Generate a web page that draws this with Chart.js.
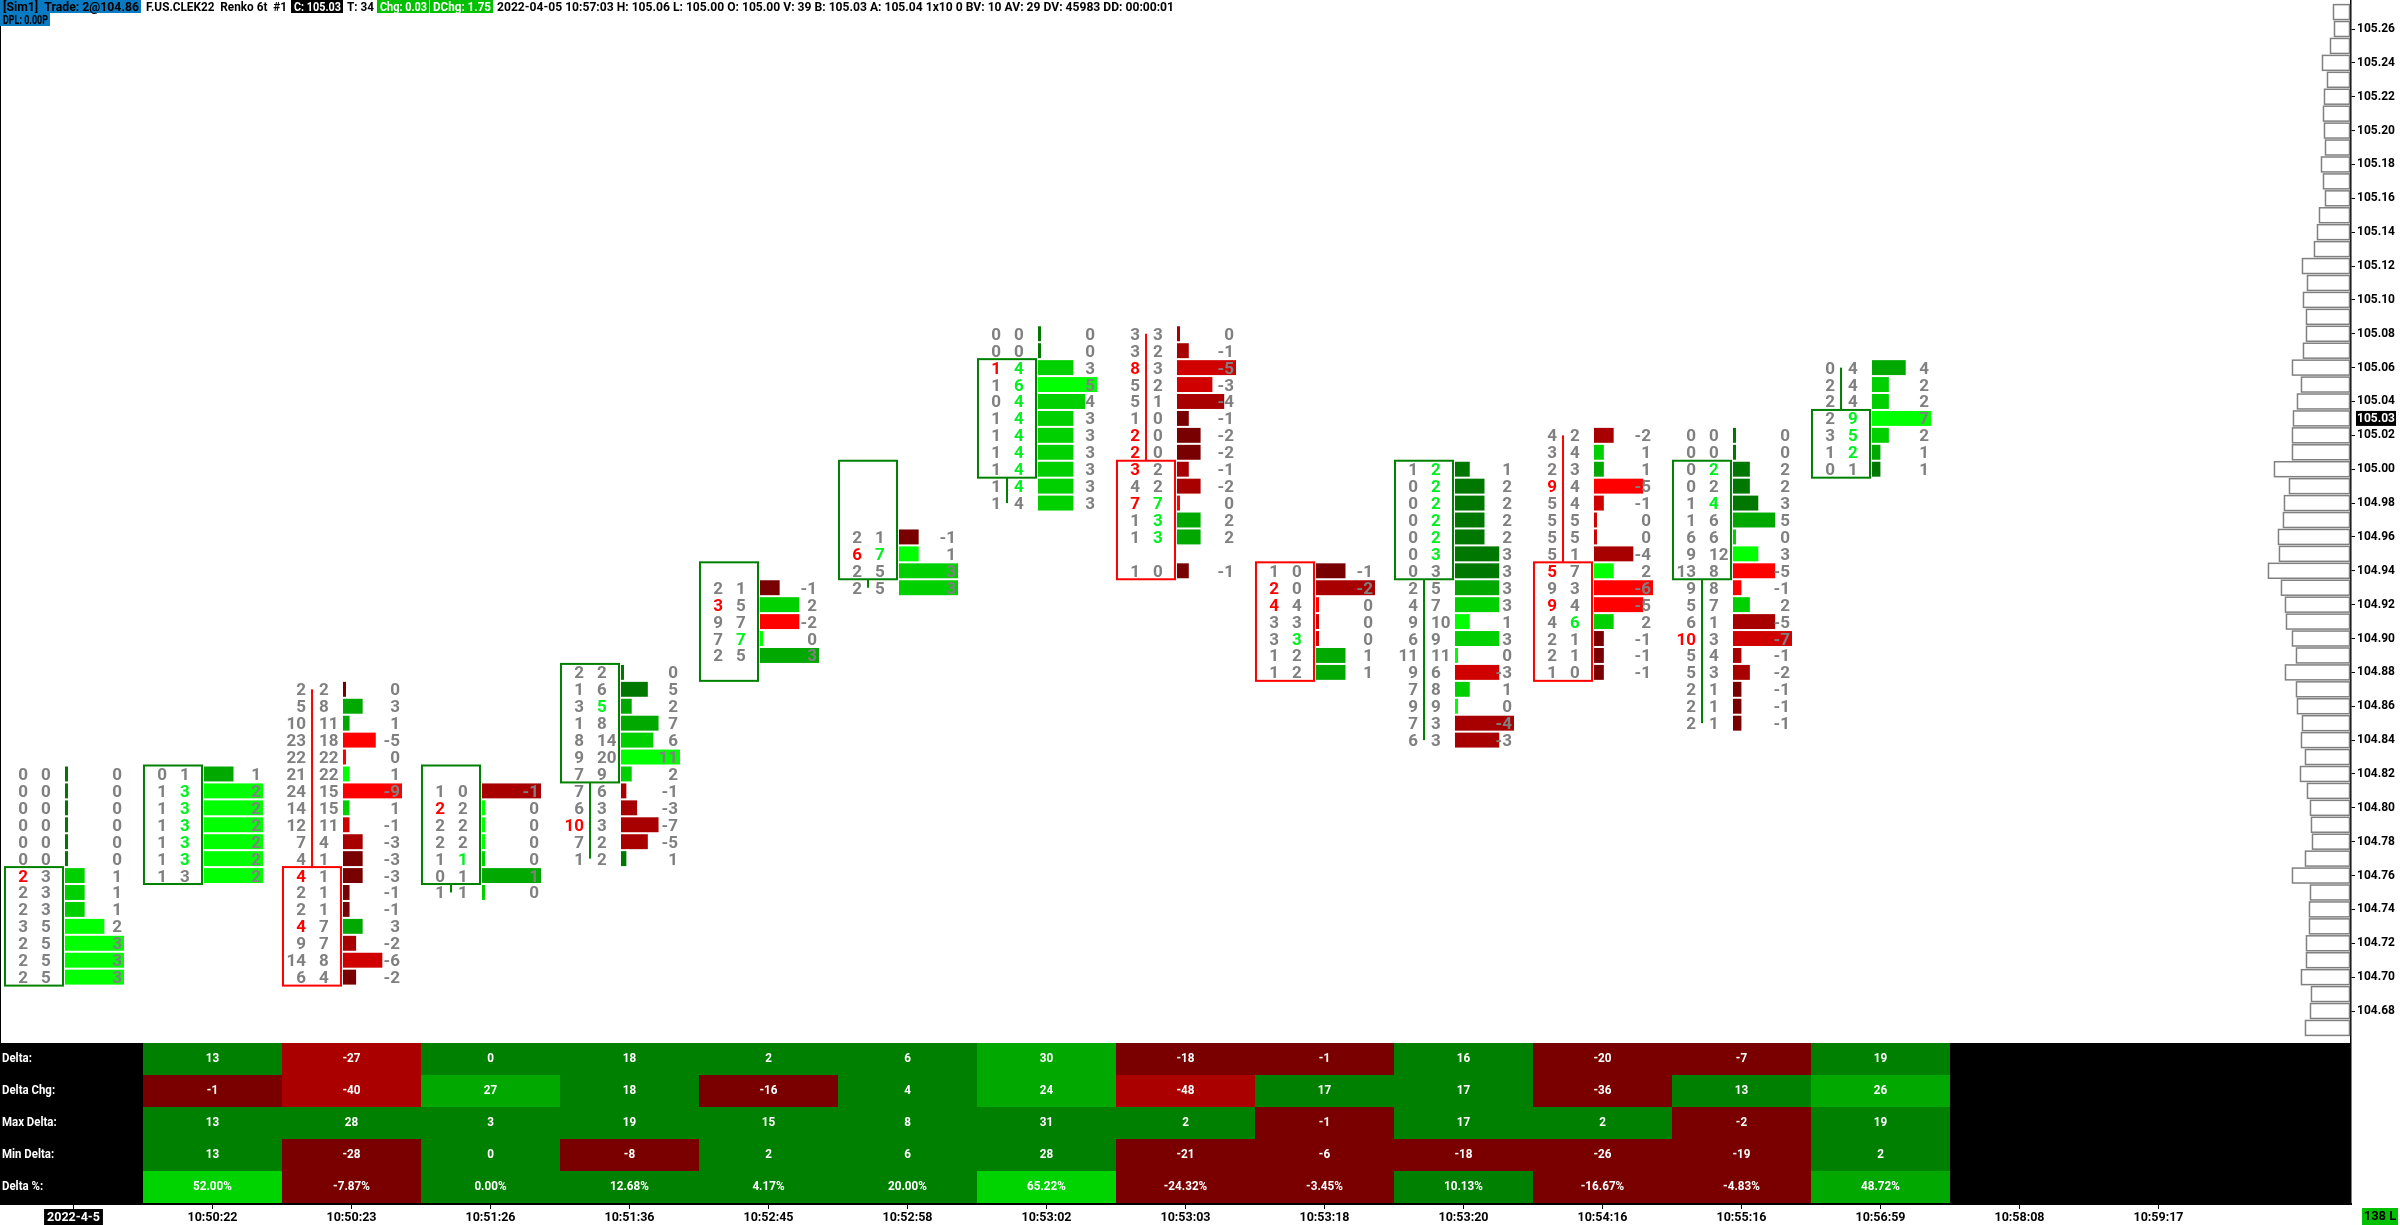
<!DOCTYPE html>
<html><head><meta charset="utf-8">
<script src="https://cdn.jsdelivr.net/npm/chart.js@4.4.1/dist/chart.umd.min.js"></script>
<style>html,body{margin:0;padding:0;background:#fff;}canvas{display:block;}</style>
</head><body>
<canvas id="c" width="2400" height="1225" style="width:2400px;height:1225px"></canvas>
<script>
// ---------------- data ----------------
const slotLabels = ['2022-4-5','10:50:22','10:50:23','10:51:26','10:51:36','10:52:45','10:52:58','10:53:02','10:53:03','10:53:18','10:53:20','10:54:16','10:55:16','10:56:59','10:58:08','10:59:17'];
const barTopPrice = [104.82,104.82,104.87,104.81,104.88,104.93,104.96,105.08,105.08,104.94,105.00,105.02,105.02,105.06];
const barOpen  = [104.70,104.76,104.76,104.76,104.82,104.88,104.94,105.00,105.00,104.94,104.94,104.94,104.94,105.00];
const barClose = [104.76,104.82,104.70,104.82,104.88,104.94,105.00,105.06,104.94,104.88,105.00,104.88,105.00,105.03];
const bidVolumes = [
  [0,0,0,0,0,0,2,2,2,3,2,2,2],
  [0,1,1,1,1,1,1],
  [2,5,10,23,22,21,24,14,12,7,4,4,2,2,4,9,14,6],
  [1,2,2,2,1,0,1],
  [2,1,3,1,8,9,7,7,6,10,7,1],
  [2,3,9,7,2],
  [2,6,2,2],
  [0,0,1,1,0,1,1,1,1,1,1],
  [3,3,8,5,5,1,2,2,3,4,7,1,1,null,1],
  [1,2,4,3,3,1,1],
  [1,0,0,0,0,0,0,2,4,9,6,11,9,7,9,7,6],
  [4,3,2,9,5,5,5,5,5,9,9,4,2,2,1],
  [0,0,0,0,1,1,6,9,13,9,5,6,10,5,5,2,2,2],
  [0,2,2,2,3,1,0]
];
const askVolumes = [
  [0,0,0,0,0,0,3,3,3,5,5,5,5],
  [1,3,3,3,3,3,3],
  [2,8,11,18,22,22,15,15,11,4,1,1,1,1,7,7,8,4],
  [0,2,2,2,1,1,1],
  [2,6,5,8,14,20,9,6,3,3,2,2],
  [1,5,7,7,5],
  [1,7,5,5],
  [0,0,4,6,4,4,4,4,4,4,4],
  [3,2,3,2,1,0,0,0,2,2,7,3,3,null,0],
  [0,0,4,3,3,2,2],
  [2,2,2,2,2,3,3,5,7,10,9,11,6,8,9,3,3],
  [2,4,3,4,4,5,5,1,7,3,4,6,1,1,0],
  [0,0,2,2,4,6,6,12,8,8,7,1,3,4,3,1,1,1],
  [4,4,4,9,5,2,1]
];
const tableRowNames = ['Delta:','Delta Chg:','Max Delta:','Min Delta:','Delta %:'];
const tableDelta    = [13,-27,0,18,2,6,30,-18,-1,16,-20,-7,19];
const tableDeltaChg = [-1,-40,27,18,-16,4,24,-48,17,17,-36,13,26];
const tableMaxDelta = [13,28,3,19,15,8,31,2,-1,17,2,-2,19];
const tableMinDelta = [13,-28,0,-8,2,6,28,-21,-6,-18,-26,-19,2];
const tableDeltaPct = [52.00,-7.87,0.00,12.68,4.17,20.00,65.22,-24.32,-3.45,10.13,-16.67,-4.83,48.72];
const profilePrices = [104.67,104.68,104.69,104.70,104.71,104.72,104.73,104.74,104.75,104.76,
  104.77,104.78,104.79,104.80,104.81,104.82,104.83,104.84,104.85,104.86,
  104.87,104.88,104.89,104.90,104.91,104.92,104.93,104.94,104.95,104.96,
  104.97,104.98,104.99,105.00,105.01,105.02,105.03,105.04,105.05,105.06,
  105.07,105.08,105.09,105.10,105.11,105.12,105.13,105.14,105.15,105.16,
  105.17,105.18,105.19,105.20,105.21,105.22,105.23,105.24,105.25,105.26,105.27];
const profileVolumes = [44,39,38,48,43,43,40,40,39,57,
  44,37,38,39,42,49,44,48,47,52,
  53,64,53,57,63,64,68,81,70,71,
  66,65,60,75,57,57,56,52,48,57,
  46,43,43,46,42,47,35,32,30,24,
  26,28,24,25,26,25,22,27,19,15,16];
const priceTickLabels = ['104.68','104.70','104.72','104.74','104.76','104.78','104.80','104.82','104.84','104.86',
  '104.88','104.90','104.92','104.94','104.96','104.98','105.00','105.02','105.04','105.06',
  '105.08','105.10','105.12','105.14','105.16','105.18','105.20','105.22','105.24','105.26'];
const lastPrice = 105.03;
const headerLine1 = ['[Sim1]  Trade: 2@104.86','F.US.CLEK22  Renko 6t  #1','C: 105.03','T: 34','Chg: 0.03','DChg: 1.75',
  '2022-04-05 10:57:03 H: 105.06 L: 105.00 O: 105.00 V: 39 B: 105.03 A: 105.04 1x10 0 BV: 10 AV: 29 DV: 45983 DD: 00:00:01'];
const headerLine2 = 'DPL: 0.00P';
const barCountLabel = '138 L';

// ---------------- styles ----------------
const GREENS = ['#007800','#00a800','#00d000','#00ff00'];
const REDS   = ['#780000','#a80000','#d00000','#ff0000'];
const TXT_GRAY = '#808080';
const BOX_UP = '#008000', BOX_DN = '#ff0000';
const FP_FONT = 'bold 17px Roboto';

function shadeLevel(r){ return r >= 0.8 ? 3 : r >= 0.5 ? 2 : r >= 0.25 ? 1 : 0; }

function cellColor(row, v){
  if (row === 0) return v >= 25 ? '#00a800' : v >= 0 ? '#008000' : v <= -25 ? '#aa0000' : '#7a0000';
  if (row === 1) return v >= 20 ? '#00a800' : v >= 0 ? '#008000' : v <= -38 ? '#aa0000' : '#7a0000';
  if (row === 4) return v >= 50 ? '#00d400' : v >= 40 ? '#00a800' : v >= 0 ? '#008000' : '#7a0000';
  return v >= 0 ? '#008000' : '#7a0000';
}

function ctext(ctx, s, x, y, align, sx){
  ctx.save(); ctx.translate(x, y); ctx.scale(sx, 1); ctx.textAlign = align; ctx.fillText(s, 0, 0); ctx.restore();
}

const footprintPlugin = {
  id: 'footprint',
  beforeDraw(chart){
    const {ctx, chartArea: a, scales: {x}} = chart;
    ctx.save();
    ctx.font = 'bold 12.5px Roboto';
    const w = ctx.measureText(slotLabels[0]).width + 6;
    ctx.fillStyle = '#000';
    ctx.fillRect(x.getPixelForValue(0) - w/2, a.bottom + 5, w, 16);
    ctx.restore();
  },
  afterDraw(chart){
    const {ctx, chartArea: a, scales: {x, y}} = chart;
    const sw = x.getPixelForValue(1) - x.getPixelForValue(0);
    const rowH = Math.abs(y.getPixelForValue(104.90) - y.getPixelForValue(104.91));
    const P = v => y.getPixelForValue(v);
    ctx.save();

    // left border line
    ctx.fillStyle = '#000';
    ctx.fillRect(a.left, a.top, 1, a.bottom - a.top);

    // ---- volume profile ----
    const maxPV = Math.max(...profileVolumes);
    const pRight = a.right - 1.5;
    ctx.lineWidth = 1.5; ctx.strokeStyle = '#808080';
    profilePrices.forEach((p, i) => {
      const yc = P(p), w = profileVolumes[i] / maxPV * 0.583 * sw, h = rowH - 2;
      ctx.fillStyle = '#fff';
      ctx.fillRect(pRight - w, yc - h/2, w, h);
      ctx.strokeRect(pRight - w, yc - h/2, w, h);
    });

    // ---- footprint columns ----
    ctx.font = FP_FONT;
    ctx.textBaseline = 'alphabetic';
    for (let c = 0; c < bidVolumes.length; c++){
      const cx = x.getPixelForValue(c);
      const bids = bidVolumes[c], asks = askVolumes[c], n = bids.length;
      const prices = bids.map((_, k) => Math.round(barTopPrice[c]*100 - k) / 100);
      let maxAbs = 1, maxVol = 1, tHi = null, tLo = null;
      for (let k = 0; k < n; k++){
        if (bids[k] == null) continue;
        const d = asks[k] - bids[k], v = asks[k] + bids[k];
        maxAbs = Math.max(maxAbs, Math.abs(d)); maxVol = Math.max(maxVol, v);
        if (v > 0){ if (tHi === null) tHi = prices[k]; tLo = prices[k]; }
      }
      const up = barClose[c] >= barOpen[c];
      const hi = Math.max(barOpen[c], barClose[c]), lo = Math.min(barOpen[c], barClose[c]);
      const boxCol = up ? BOX_UP : BOX_DN;
      const boxL = cx - 0.493*sw, boxR = cx - 0.0755*sw;
      const boxT = P(hi + 0.005), boxB = P(lo - 0.005);
      // wick
      const wx = cx - 0.284*sw;
      ctx.fillStyle = boxCol;
      if (tHi !== null && tHi > hi + 1e-6) ctx.fillRect(wx - 1, P(tHi), 2, boxT - P(tHi));
      if (tLo !== null && tLo < lo - 1e-6) ctx.fillRect(wx - 1, boxB, 2, P(tLo) - boxB);
      // box
      ctx.lineWidth = 2; ctx.strokeStyle = boxCol;
      ctx.strokeRect(boxL, boxT, boxR - boxL, boxB - boxT);
      // rows
      for (let k = 0; k < n; k++){
        if (bids[k] == null) continue;
        const yc = P(prices[k]);
        const d = asks[k] - bids[k], v = asks[k] + bids[k];
        const lvl = shadeLevel(v / maxVol);
        const col = d > 0 ? GREENS[lvl] : d < 0 ? REDS[lvl] : (up ? GREENS[lvl] : REDS[lvl]);
        const bw = d === 0 ? 3 : Math.max(3, Math.abs(d) / maxAbs * 0.4245 * sw);
        ctx.fillStyle = col;
        ctx.fillRect(cx - 0.0612*sw, yc - rowH/2 + 1, bw, rowH - 2);
        // imbalance
        let askImb = false, bidImb = false;
        if (k + 1 < n && asks[k] > 0){ const b = bids[k+1] == null ? 0 : bids[k+1]; askImb = asks[k] >= 3*b; }
        if (k - 1 >= 0 && bids[k] > 0 && asks[k-1] != null){ bidImb = bids[k] >= 3*asks[k-1]; }
        const ty = yc + 6;
        ctx.fillStyle = bidImb ? '#ff0000' : TXT_GRAY;
        ctx.textAlign = 'right'; ctx.fillText(String(bids[k]), cx - 0.327*sw, ty);
        ctx.fillStyle = askImb ? '#00f020' : TXT_GRAY;
        ctx.textAlign = 'left'; ctx.fillText(String(asks[k]), cx - 0.234*sw, ty);
        ctx.fillStyle = TXT_GRAY;
        ctx.textAlign = 'right'; ctx.fillText(String(d), cx + 0.349*sw, ty);
      }
    }

    // ---- statistics table ----
    const tRowH = 32;
    const tBottom = a.bottom - 1, tTop = tBottom - 5*tRowH;
    ctx.fillStyle = '#000';
    ctx.fillRect(a.left, tTop, a.right - a.left, tBottom - tTop);
    const rows = [tableDelta, tableDeltaChg, tableMaxDelta, tableMinDelta, tableDeltaPct];
    ctx.font = 'bold 13px Roboto';
    ctx.textBaseline = 'middle';
    rows.forEach((vals, r) => {
      const ry = tTop + r*tRowH;
      ctx.fillStyle = '#fff';
      ctext(ctx, tableRowNames[r], a.left + 2, ry + tRowH/2, 'left', 0.88);
      vals.forEach((v, i) => {
        const x0 = x.getPixelForValue(i + 0.5), x1 = x.getPixelForValue(i + 1.5);
        ctx.fillStyle = cellColor(r, v);
        ctx.fillRect(x0, ry, x1 - x0, tRowH);
        ctx.fillStyle = '#fff';
        const s = r === 4 ? v.toFixed(2) + '%' : String(v);
        ctext(ctx, s, (x0 + x1)/2, ry + tRowH/2, 'center', 0.9);
      });
    });

    // ---- header ----
    const segs = [[0,141,'#0a7ac2','#000'],[143,289,null,'#000'],[291,343,'#000','#fff'],[344,376,null,'#000'],
                  [377,429,'#00c000','#fff'],[430,493,'#00c000','#fff'],[494,1176,null,'#000']];
    ctx.font = 'bold 13px Roboto';
    ctx.textBaseline = 'alphabetic'; ctx.textAlign = 'left';
    segs.forEach((s, i) => {
      if (s[2]){ ctx.fillStyle = s[2]; ctx.fillRect(s[0], 0, s[1]-s[0], 13); }
      ctx.fillStyle = s[3];
      ctx.fillText(headerLine1[i], s[0] + 3, 11, s[1] - s[0] - 5);
    });
    ctx.fillStyle = '#0a7ac2'; ctx.fillRect(0, 13, 50, 13);
    ctx.fillStyle = '#000'; ctx.fillText(headerLine2, 3, 24, 45);

    // ---- last price marker ----
    const ly = P(lastPrice);
    ctx.fillStyle = '#000';
    ctx.fillRect(y.left + 5, ly - 7.5, 40, 15);
    ctx.fillStyle = '#fff'; ctx.font = 'bold 12px Roboto'; ctx.textBaseline = 'middle'; ctx.textAlign = 'left';
    ctx.fillText(lastPrice.toFixed(2), y.left + 6, ly + 0.5);

    // ---- bar count box ----
    ctx.fillStyle = '#00c000';
    ctx.fillRect(y.left + 11, a.bottom + 4, 36, 17);
    ctx.fillStyle = '#000'; ctx.font = 'bold 13px Roboto'; ctx.textAlign = 'center';
    ctx.fillText(barCountLabel, y.left + 29, a.bottom + 13);
    ctx.restore();
  }
};

const xMin = -0.52878, xMax = 16.3849;
const yMax = 105.27713, yMin = 104.56601;

new Chart(document.getElementById('c').getContext('2d'), {
  type: 'scatter',
  data: { datasets: [] },
  options: {
    responsive: false, animation: false, devicePixelRatio: 1,
    layout: { padding: 0 },
    plugins: { legend: { display: false }, tooltip: { enabled: false }, title: { display: false } },
    scales: {
      x: {
        type: 'linear', position: 'bottom', min: xMin, max: xMax, bounds: 'data',
        afterBuildTicks: s => { s.ticks = slotLabels.map((_, i) => ({ value: i })); },
        afterFit: s => { s.height = 21; s.paddingLeft = 0; s.paddingRight = 0; },
        ticks: {
          autoSkip: false, maxRotation: 0, minRotation: 0, padding: 1,
          font: { family: 'Roboto', size: 12.5, weight: 'bold' },
          color: c => (c.index === 0 ? '#fff' : '#000'),
          callback: (v, i) => slotLabels[i]
        },
        grid: { display: true, drawOnChartArea: false, drawTicks: true, tickLength: 5, color: '#000', lineWidth: 1 },
        border: { display: true, color: '#000', width: 2 }
      },
      y: {
        type: 'linear', position: 'right', min: yMin, max: yMax, bounds: 'data',
        afterBuildTicks: s => { s.ticks = priceTickLabels.map(t => ({ value: parseFloat(t) })); },
        afterFit: s => { s.width = 49; s.paddingTop = 0; s.paddingBottom = 0; },
        ticks: {
          autoSkip: false, padding: 2,
          font: { family: 'Roboto', size: 12, weight: 'bold' },
          color: '#000',
          callback: (v, i) => priceTickLabels[i]
        },
        grid: { display: true, drawOnChartArea: false, drawTicks: true, tickLength: 4, color: '#000', lineWidth: 1 },
        border: { display: true, color: '#000', width: 1.5 }
      }
    }
  },
  plugins: [footprintPlugin]
});
</script>
</body></html>
